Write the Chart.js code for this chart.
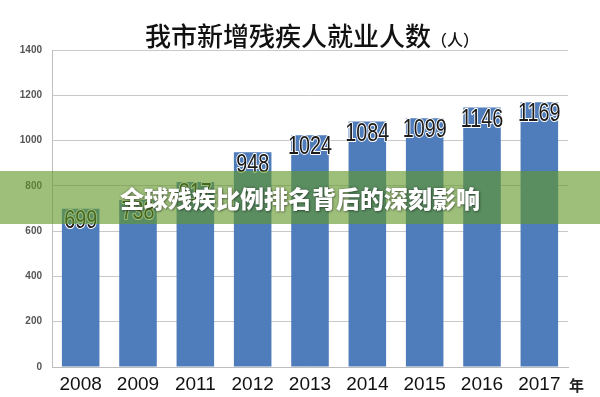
<!DOCTYPE html>
<html>
<head>
<meta charset="utf-8">
<script src="https://cdn.jsdelivr.net/npm/chart.js@4"></script>
<style>
  html, body { margin: 0; padding: 0; background: #fff; }
  #wrap { position: relative; width: 600px; height: 397px; overflow: hidden; }
  #title {
    position: absolute; left: 0; top: 18px; width: 624px; text-align: center;
    font-family: "Noto Sans CJK SC", sans-serif; color: #111; font-weight: 500;
    font-size: 26px; line-height: 34px; white-space: nowrap;
  }
  #title small { font-size: 16px; }
  #unit {
    position: absolute; left: 569px; top: 374px;
    font-family: "Noto Sans CJK SC", sans-serif; font-size: 15px; font-weight: 700; color: #222;
  }
  #banner {
    position: absolute; left: 0; top: 171px; width: 600px; height: 53px;
    background: rgba(97, 152, 40, 0.62);
    font-family: "Noto Sans CJK SC", sans-serif; font-weight: 900; font-size: 24px;
    line-height: 53px; color: #fff; text-align: center;
    text-shadow: 0 0 3px rgba(0,0,0,0.35), 1px 1px 2px rgba(0,0,0,0.3);
  }
</style>
</head>
<body>
<div id="wrap">
  <canvas id="chart" width="600" height="397"></canvas>
  <div id="title">我市新增残疾人就业人数<small>（人）</small></div>
  <div id="unit">年</div>
  <div id="banner">全球残疾比例排名背后的深刻影响</div>
</div>
<script>
// data (2011 label is hidden by the banner, estimated from the bar)
const years = ['2008', '2009', '2011', '2012', '2013', '2014', '2015', '2016', '2017'];
const employed = [699, 738, 817, 948, 1024, 1084, 1099, 1146, 1169];
const yTicks = [0, 200, 400, 600, 800, 1000, 1200, 1400];

// value labels with a thin white halo, sitting just inside the bar top (narrow face)
const barLabels = {
  id: 'barLabels',
  afterDatasetsDraw(chart) {
    const ctx = chart.ctx;
    const meta = chart.getDatasetMeta(0);
    meta.data.forEach((bar, i) => {
      const txt = String(employed[i]);
      ctx.save();
      ctx.translate(bar.x, bar.y + 12);
      ctx.scale(0.76, 1);
      ctx.font = '26px "Liberation Sans", sans-serif';
      ctx.textAlign = 'center';
      ctx.textBaseline = 'middle';
      ctx.lineJoin = 'round';
      ctx.lineWidth = 2.2;
      ctx.strokeStyle = '#ffffff';
      ctx.strokeText(txt, 0, 0);
      ctx.fillStyle = '#1a1a1a';
      ctx.fillText(txt, 0, 0);
      ctx.restore();
    });
  }
};

new Chart(document.getElementById('chart'), {
  type: 'bar',
  data: {
    labels: years,
    datasets: [{
      data: employed,
      backgroundColor: '#4f7cba',
      barPercentage: 0.655,
      categoryPercentage: 1
    }]
  },
  options: {
    responsive: false,
    animation: false,
    layout: { padding: { top: 50, right: 32, left: 0, bottom: 0 } },
    plugins: { legend: { display: false }, tooltip: { enabled: false } },
    scales: {
      x: {
        grid: { display: false, drawTicks: false },
        border: { color: '#bdbdbd', width: 1 },
        ticks: { color: '#111', padding: 6, font: { family: 'Liberation Sans', size: 19 } },
        afterFit: s => { s.height = 30; }
      },
      y: {
        min: 0,
        max: 1400,
        afterBuildTicks: s => { s.ticks = yTicks.map(v => ({ value: v })); },
        grid: { color: '#c9c9c9', drawTicks: false },
        border: { color: '#bdbdbd', width: 1 },
        ticks: {
          color: '#555', padding: 10,
          font: { family: 'Liberation Sans', size: 10, weight: 'bold' },
          callback: v => String(v)
        },
        afterFit: s => { s.width = 52; }
      }
    }
  },
  plugins: [barLabels]
});
</script>
</body>
</html>
